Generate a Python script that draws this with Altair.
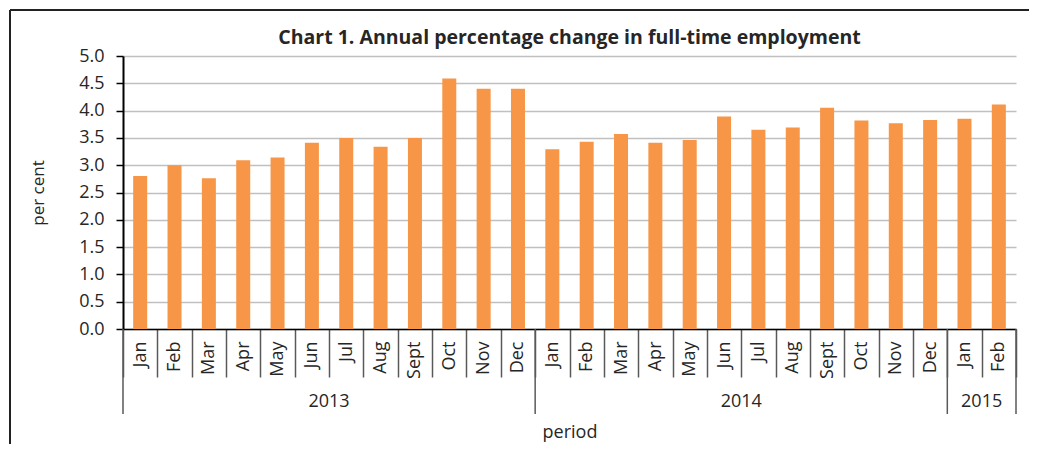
import altair as alt
import pandas as pd

# ---- data -------------------------------------------------------------
years = ["2013", "2014", "2015"]
months_2013 = ["Jan", "Feb", "Mar", "Apr", "May", "Jun", "Jul", "Aug", "Sept", "Oct", "Nov", "Dec"]
months_2014 = ["Jan", "Feb", "Mar", "Apr", "May", "Jun", "Jul", "Aug", "Sept", "Oct", "Nov", "Dec"]
months_2015 = ["Jan", "Feb"]
values_2013 = [2.80, 3.00, 2.76, 3.09, 3.14, 3.41, 3.50, 3.34, 3.50, 4.59, 4.40, 4.40]
values_2014 = [3.29, 3.43, 3.57, 3.41, 3.46, 3.89, 3.65, 3.69, 4.05, 3.82, 3.77, 3.83]
values_2015 = [3.85, 4.11]
y_ticks = [0.0, 0.5, 1.0, 1.5, 2.0, 2.5, 3.0, 3.5, 4.0, 4.5, 5.0]

TITLE = "Chart 1. Annual percentage change in full-time employment"
FONT = "Open Sans"
TXT = "#262626"

rows = []
groups = []
start = 0
for yr, ms, vs in zip(years, [months_2013, months_2014, months_2015],
                      [values_2013, values_2014, values_2015]):
    for m, v in zip(ms, vs):
        rows.append({"key": f"{yr} {m}", "month": m, "year": yr, "value": v})
    groups.append({"year": yr, "start": start, "end": start + len(ms),
                   "mid": start + len(ms) / 2})
    start += len(ms)
df = pd.DataFrame(rows)
keys = list(df["key"])
n = len(keys)
gdf = pd.DataFrame(groups)
bounds = pd.DataFrame({"b": [0] + [g["end"] for g in groups]})

W, H = 893, 273

bars = alt.Chart(df).mark_bar(size=14, color="#F79646").encode(
    x=alt.X("key:N", sort=keys,
            scale=alt.Scale(paddingInner=0, paddingOuter=0),
            axis=alt.Axis(title="period", labelExpr="split(datum.value, ' ')[1]",
                          labelAngle=270, tickBand="extent", tickSize=48,
                          tickColor="#595959", tickWidth=1.5,
                          labelPadding=-36, labelOverlap=False,
                          labelFontSize=18, labelColor=TXT,
                          domainColor="#000000", domainWidth=1.5,
                          titleFontSize=18, titleFontWeight="normal",
                          titleColor=TXT, titleY=103, titleBaseline="middle",
                          grid=False)),
    y=alt.Y("value:Q", scale=alt.Scale(domain=[0, 5], nice=False),
            axis=alt.Axis(values=y_ticks, format=".1f", title="per cent",
                          labelFontSize=18, labelColor=TXT, labelPadding=12,
                          tickSize=7, tickColor="#000000", tickWidth=1.5,
                          domainColor="#000000", domainWidth=2,
                          gridColor="#C0C0C0", gridWidth=1.5,
                          titleFontSize=17, titleFontWeight="normal",
                          titleColor=TXT, titlePadding=31)),
)

xq = alt.Scale(domain=[0, n], nice=False, zero=False)
yr_rules = alt.Chart(bounds).mark_rule(color="#595959", strokeWidth=1.5).encode(
    x=alt.X("b:Q", scale=xq, axis=None),
    y=alt.value(H), y2=alt.value(H + 85),
)
yr_text = alt.Chart(gdf).mark_text(font=FONT, fontSize=18, color=TXT,
                                   baseline="middle").encode(
    x=alt.X("mid:Q", scale=xq, axis=None),
    y=alt.value(H + 73),
    text="year:N",
)

single = alt.Data(values=[{"t": TITLE}])
title_mark = alt.Chart(single).mark_text(font=FONT, fontSize=19.5, fontWeight="bold",
                                         color=TXT, baseline="middle",
                                         align="center").encode(
    x=alt.value(W / 2), y=alt.value(-18), text="t:N")
frame_left = alt.Chart(single).mark_rule(color="#222222", strokeWidth=2).encode(
    x=alt.value(-113), y=alt.value(-46), y2=alt.value(H + 115))
frame_top = alt.Chart(single).mark_rule(color="#222222", strokeWidth=2).encode(
    x=alt.value(-113), x2=alt.value(W + 13), y=alt.value(-46))

chart = alt.layer(bars, yr_rules, yr_text, title_mark, frame_left, frame_top).resolve_scale(
    x="independent"
).properties(
    width=W, height=H,
    padding={"left": 1, "top": 1, "right": 0, "bottom": 0},
).configure_view(stroke=None).configure_axis(
    labelFont=FONT, titleFont=FONT
)

chart.save("out.html", embed_options={"renderer": "svg", "actions": False})
